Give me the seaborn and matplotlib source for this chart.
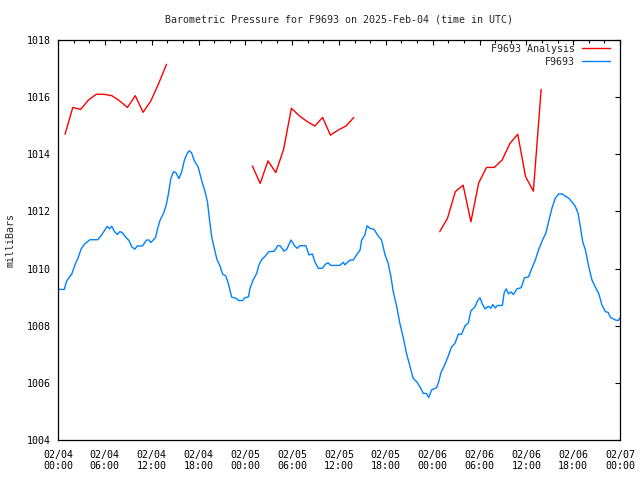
import matplotlib
matplotlib.use("Agg")
import matplotlib.pyplot as plt
import matplotlib.dates as mdates
import pandas as pd
import seaborn as sns

title = "Barometric Pressure for F9693 on 2025-Feb-04 (time in UTC)"
start = pd.Timestamp("2025-02-04 00:00")
end = pd.Timestamp("2025-02-07 00:00")

# Observed station pressure (hours since start, mb)
obs_hours = [0.0, 0.8, 1.1, 1.4, 1.75, 2.2, 2.6, 2.95, 3.4, 3.7, 4.1, 5.1, 5.6, 6.0, 6.3, 6.6, 6.9,
             7.2, 7.6, 7.9, 8.2, 8.7, 9.1, 9.45, 9.85, 10.15, 10.8, 11.35, 11.65, 11.9, 12.2, 12.5,
             12.75, 13.1, 13.5, 13.85, 14.15, 14.45, 14.8, 15.1, 15.5, 15.85, 16.2, 16.5, 16.8, 17.1,
             17.45, 17.95, 18.4, 18.85, 19.15, 19.4, 19.7, 20.0, 20.35, 20.75, 21.1, 21.5, 21.8,
             22.25, 22.9, 23.1, 23.65, 23.95, 24.4, 24.6, 25.0, 25.45, 25.75, 26.1, 26.5, 27.0, 27.7,
             28.15, 28.45, 28.95, 29.3, 29.85, 30.3, 30.65, 31.0, 31.75, 32.15, 32.6, 32.9, 33.35,
             33.85, 34.3, 34.6, 34.95, 36.1, 36.55, 36.75, 37.4, 37.85, 38.25, 38.7, 38.9, 39.3,
             39.6, 39.95, 40.5, 40.95, 41.45, 41.9, 42.3, 42.65, 42.95, 43.4, 43.8, 44.25, 44.65,
             45.1, 45.5, 45.95, 46.35, 46.8, 47.2, 47.5, 47.85, 48.5, 48.8, 49.05, 49.6, 50.0, 50.4,
             50.85, 51.3, 51.7, 52.15, 52.57, 52.9, 53.42, 53.77, 54.07, 54.36, 54.71, 55.14, 55.44,
             55.7, 56.0, 56.33, 56.94, 57.15, 57.41, 57.71, 58.05, 58.35, 58.78, 59.34, 59.77, 60.28,
             60.7, 61.14, 61.56, 62.08, 62.5, 62.86, 63.29, 63.72, 64.13, 64.64, 64.99, 65.41, 65.85,
             66.27, 66.62, 66.92, 67.22, 67.57, 68.0, 68.42, 68.85, 69.28, 69.71, 70.14, 70.48,
             70.78, 71.42, 71.76, 72.0]
obs_mb = [1009.27, 1009.27, 1009.56, 1009.68, 1009.8, 1010.15, 1010.39, 1010.68, 1010.86, 1010.92,
          1011.01, 1011.01, 1011.18, 1011.35, 1011.48, 1011.39, 1011.48, 1011.31, 1011.19, 1011.29,
          1011.27, 1011.09, 1010.98, 1010.76, 1010.68, 1010.79, 1010.79, 1011.0, 1011.0, 1010.91,
          1011.0, 1011.09, 1011.39, 1011.71, 1011.92, 1012.21, 1012.62, 1013.15, 1013.39, 1013.36,
          1013.15, 1013.39, 1013.8, 1014.0, 1014.12, 1014.06, 1013.78, 1013.56, 1013.09, 1012.68,
          1012.33, 1011.74, 1011.09, 1010.74, 1010.33, 1010.09, 1009.8, 1009.74, 1009.5, 1009.0,
          1008.95, 1008.88, 1008.88, 1008.98, 1009.01, 1009.31, 1009.6, 1009.83, 1010.13, 1010.32,
          1010.42, 1010.59, 1010.61, 1010.8, 1010.8, 1010.61, 1010.67, 1011.0, 1010.8, 1010.71,
          1010.8, 1010.8, 1010.48, 1010.51, 1010.24, 1010.01, 1010.01, 1010.16, 1010.2, 1010.11,
          1010.11, 1010.22, 1010.13, 1010.3, 1010.3, 1010.48, 1010.65, 1011.0, 1011.17, 1011.5,
          1011.41, 1011.37, 1011.17, 1011.0, 1010.48, 1010.18, 1009.72, 1009.19, 1008.66, 1008.08,
          1007.56, 1007.03, 1006.57, 1006.16, 1006.04, 1005.87, 1005.63, 1005.63, 1005.49, 1005.75,
          1005.83, 1006.06, 1006.35, 1006.67, 1006.94, 1007.25, 1007.38, 1007.71, 1007.7, 1008.0,
          1008.1, 1008.52, 1008.66, 1008.88, 1008.98, 1008.76, 1008.59, 1008.68, 1008.61, 1008.74,
          1008.62, 1008.71, 1008.71, 1009.14, 1009.29, 1009.12, 1009.18, 1009.09, 1009.29, 1009.33,
          1009.68, 1009.71, 1010.0, 1010.29, 1010.65, 1011.0, 1011.24, 1011.65, 1012.12, 1012.47,
          1012.61, 1012.61, 1012.53, 1012.47, 1012.33, 1012.18, 1011.94, 1011.47, 1010.94, 1010.65,
          1010.06, 1009.59, 1009.35, 1009.12, 1008.71, 1008.49, 1008.47, 1008.29, 1008.2, 1008.18,
          1008.27]

# Analysis pressure, three runs (hours since start, mb)
ana1_hours = [0.9, 1.9, 2.9, 3.9, 4.9, 5.9, 6.9, 7.9, 8.9, 9.9, 10.9, 11.9, 12.9, 13.9]
ana1_mb = [1014.70, 1015.64, 1015.57, 1015.90, 1016.10, 1016.10, 1016.05, 1015.87, 1015.64,
           1016.05, 1015.47, 1015.87, 1016.48, 1017.15]
ana2_hours = [24.9, 25.9, 26.9, 27.9, 28.9, 29.9, 30.9, 31.9, 32.9, 33.9, 34.9, 35.9, 36.9, 37.9]
ana2_mb = [1013.59, 1012.98, 1013.77, 1013.36, 1014.17, 1015.61, 1015.35, 1015.15, 1014.99,
           1015.29, 1014.67, 1014.85, 1014.99, 1015.29]
ana3_hours = [48.9, 49.9, 50.9, 51.9, 52.9, 53.9, 54.9, 55.9, 56.9, 57.9, 58.9, 59.9, 60.9, 61.9]
ana3_mb = [1011.29, 1011.76, 1012.69, 1012.92, 1011.64, 1013.00, 1013.54, 1013.54, 1013.80,
           1014.38, 1014.70, 1013.22, 1012.71, 1016.27]

y_ticks = [1004, 1006, 1008, 1010, 1012, 1014, 1016, 1018]

sns.set_style("white")
plt.rcParams["font.family"] = ["DejaVu Sans Mono", "DejaVu Sans"]
FS = 7.2

def to_df(hours, vals):
    return pd.DataFrame({"time": start + pd.to_timedelta(hours, unit="h"), "mb": vals})

fig = plt.figure(figsize=(6.4, 4.8), dpi=100)
ax = fig.add_axes([58 / 640, 40 / 480, 562 / 640, 400 / 480])

red = "#ff0000"
blue = "#0080ff"
for h, v in [(ana1_hours, ana1_mb), (ana2_hours, ana2_mb), (ana3_hours, ana3_mb)]:
    sns.lineplot(data=to_df(h, v), x="time", y="mb", color=red, lw=1.0,
                 estimator=None, ax=ax, legend=False)
sns.lineplot(data=to_df(obs_hours, obs_mb), x="time", y="mb", color=blue, lw=1.0,
             estimator=None, ax=ax, legend=False)

ax.set_xlim(start, end)
ax.set_ylim(1004, 1018)
ax.set_yticks(y_ticks)
ax.set_yticklabels([str(t) for t in y_ticks])
ax.xaxis.set_major_locator(mdates.HourLocator(byhour=[0, 6, 12, 18]))
ax.xaxis.set_minor_locator(mdates.HourLocator(byhour=range(0, 24, 2)))
ax.xaxis.set_major_formatter(mdates.DateFormatter("%m/%d\n%H:%M"))

ax.tick_params(axis="both", which="both", direction="in", top=True, right=True,
               colors="black", labelsize=FS, width=0.8)
ax.tick_params(axis="y", which="major", length=3.5, pad=5.5)
ax.tick_params(axis="x", which="major", length=3.5, pad=7)
ax.tick_params(axis="both", which="minor", length=1.8)
for s in ax.spines.values():
    s.set_visible(True)
    s.set_color("black")
    s.set_linewidth(0.9)

ax.set_xlabel("")
ax.set_ylabel("milliBars", fontsize=FS)
ax.yaxis.set_label_coords(-0.075, 0.5)

fig.text(339 / 640, 1 - 20 / 480, title, ha="center", va="center", fontsize=FS)

handles = [ax.lines[0], ax.lines[-1]]
leg = ax.legend(handles, ["F9693 Analysis", "F9693"], loc="upper right",
                bbox_to_anchor=(1 - 10 / 562, 1 - 4 / 400), borderaxespad=0, borderpad=0,
                frameon=False, markerfirst=False, fontsize=FS, handlelength=2.8,
                handletextpad=0.7, labelspacing=0.3)

fig.savefig("out.png", dpi=100, facecolor="white")
